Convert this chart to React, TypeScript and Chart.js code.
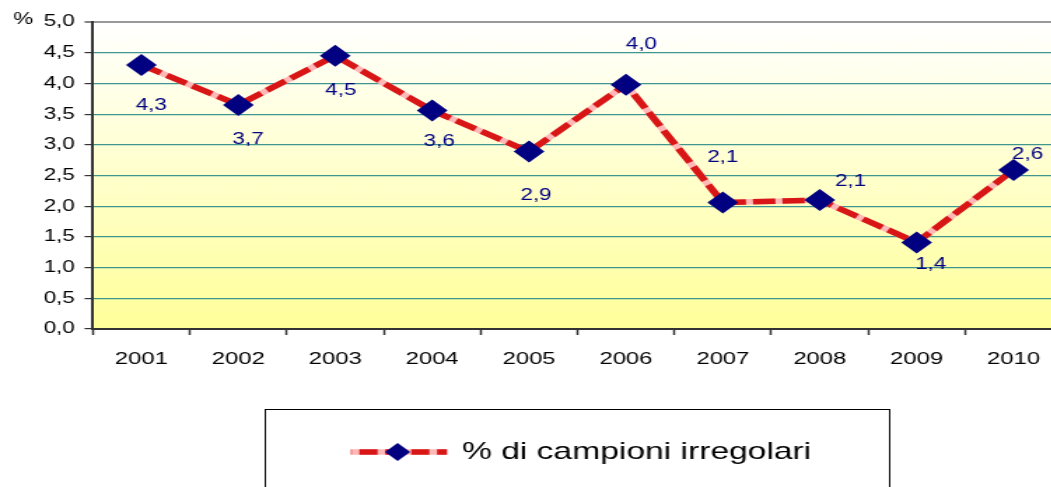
import React, { useEffect, useRef } from "react";
import { Chart, registerables } from "chart.js";

Chart.register(...registerables);

const categories = ["2001", "2002", "2003", "2004", "2005", "2006", "2007", "2008", "2009", "2010"];
const values = [4.3, 3.65, 4.45, 3.56, 2.89, 3.98, 2.06, 2.1, 1.41, 2.59];
const valueLabels = ["4,3", "3,7", "4,5", "3,6", "2,9", "4,0", "2,1", "2,1", "1,4", "2,6"];
const seriesName = "% di campioni irregolari";
const yUnit = "%";
const yMin = 0;
const yMax = 5;
const yStep = 0.5;

// label placement offsets (native px, relative to point)
const labelOffsets: [number, number][] = [
  [7, 41], [7, 35], [4, 35], [5, 31], [5, 44],
  [11, -40], [0, -45], [22, -18], [10, 22], [10, -15],
];

const STRETCH = 1.4;
const NATIVE_W = 780;
const H = 487;
const FONT = "'Liberation Sans', Arial, sans-serif";
const RED = "#D81616";
const PINK = "#FFB8B8";
const NAVY = "#000080";

const bgPlugin = {
  id: "bgGradient",
  beforeDraw(chart: any) {
    const { ctx, chartArea } = chart;
    if (!chartArea) return;
    const g = ctx.createLinearGradient(0, chartArea.top, 0, chartArea.bottom);
    g.addColorStop(0, "#FFFFFF");
    g.addColorStop(1, "#FFFF99");
    ctx.save();
    ctx.fillStyle = g;
    ctx.fillRect(chartArea.left, chartArea.top, chartArea.right - chartArea.left, chartArea.bottom - chartArea.top);
    ctx.restore();
  },
};

const labelPlugin = {
  id: "valueLabels",
  afterDatasetsDraw(chart: any) {
    const { ctx } = chart;
    const meta = chart.getDatasetMeta(1);
    ctx.save();
    ctx.font = `16px ${FONT}`;
    ctx.fillStyle = NAVY;
    ctx.textAlign = "center";
    ctx.textBaseline = "middle";
    meta.data.forEach((pt: any, i: number) => {
      const [dx, dy] = labelOffsets[i];
      ctx.fillText(valueLabels[i], pt.x + dx, pt.y + dy);
    });
    // unit label
    ctx.fillStyle = "#000";
    ctx.font = `16px ${FONT}`;
    ctx.fillText(yUnit, 16.5, 20);
    ctx.restore();
  },
};

const legendPlugin = {
  id: "boxLegend",
  afterDraw(chart: any) {
    const { ctx } = chart;
    ctx.save();
    // box
    ctx.strokeStyle = "#000";
    ctx.lineWidth = 1;
    ctx.strokeRect(189.5, 409.5, 446, 120);
    const y = 452;
    const x0 = 250.7;
    const x1 = 319.3;
    ctx.lineWidth = 5.5;
    ctx.strokeStyle = PINK;
    ctx.beginPath();
    ctx.moveTo(x0, y);
    ctx.lineTo(x1, y);
    ctx.stroke();
    ctx.strokeStyle = RED;
    ctx.setLineDash([13, 5.5]);
    ctx.lineDashOffset = -6;
    ctx.beginPath();
    ctx.moveTo(x0, y);
    ctx.lineTo(x1, y);
    ctx.stroke();
    ctx.setLineDash([]);
    // diamond
    const cx = 284;
    const r = 9;
    ctx.fillStyle = NAVY;
    ctx.beginPath();
    ctx.moveTo(cx, y - r);
    ctx.lineTo(cx + r, y);
    ctx.lineTo(cx, y + r);
    ctx.lineTo(cx - r, y);
    ctx.closePath();
    ctx.fill();
    // text
    ctx.fillStyle = "#000";
    ctx.font = `24px ${FONT}`;
    ctx.textAlign = "left";
    ctx.textBaseline = "middle";
    ctx.fillText(seriesName, 330, y);
    ctx.restore();
  },
};

export default function App() {
  const canvasRef = useRef<HTMLCanvasElement | null>(null);

  useEffect(() => {
    if (!canvasRef.current) return;
    const chart = new Chart(canvasRef.current, {
      type: "line",
      data: {
        labels: categories,
        datasets: [
          {
            label: seriesName + " base",
            data: values,
            borderColor: PINK,
            borderWidth: 5.5,
            pointRadius: 0,
            pointHoverRadius: 0,
            tension: 0,
            order: 2,
          },
          {
            label: seriesName,
            data: values,
            borderColor: RED,
            borderWidth: 5.5,
            borderDash: [16, 5],
            pointStyle: "rectRot",
            pointRadius: 11,
            pointHoverRadius: 11,
            pointBackgroundColor: NAVY,
            pointBorderColor: NAVY,
            pointBorderWidth: 0,
            tension: 0,
            order: 1,
          },
        ],
      },
      options: {
        animation: false,
        responsive: true,
        maintainAspectRatio: false,
        events: [],
        layout: { padding: { left: 0, right: NATIVE_W - 758.6, top: 22, bottom: H - 329 - 50 } },
        plugins: {
          legend: { display: false },
          tooltip: { enabled: false },
          title: { display: false },
        },
        scales: {
          x: {
            offset: true,
            grid: {
              offset: true,
              drawOnChartArea: false,
              drawTicks: true,
              tickLength: 6,
              tickColor: "#333",
              tickWidth: 1.5,
            },
            border: { display: true, color: "#333", width: 2 },
            ticks: {
              color: "#000",
              font: { family: FONT, size: 17 },
              padding: 14,
              maxRotation: 0,
              autoSkip: false,
            },
            afterFit(scale: any) {
              scale.height = 50;
            },
          },
          y: {
            min: yMin,
            max: yMax,
            grid: {
              color: (c: any) => (c.tick && c.tick.value === yMax ? "#999999" : "#3F9690"),
              lineWidth: (c: any) => (c.tick && c.tick.value === yMax ? 2 : 1.2),
              drawTicks: true,
              tickLength: 6,
              tickColor: "#333",
              tickWidth: 1.2,
            },
            border: { display: true, color: "#333", width: 2 },
            ticks: {
              stepSize: yStep,
              color: "#000",
              font: { family: FONT, size: 16 },
              padding: 7,
              callback: (v: any) => Number(v).toFixed(1).replace(".", ","),
            },
            afterFit(scale: any) {
              scale.width = 66.4;
            },
          },
        },
      },
      plugins: [bgPlugin, labelPlugin, legendPlugin],
    });
    return () => chart.destroy();
  }, []);

  return (
    <div
      style={{
        position: "fixed",
        left: 0,
        top: 0,
        width: 1051,
        height: H,
        overflow: "hidden",
        background: "#fff",
      }}
    >
      <div
        style={{
          position: "absolute",
          left: 0,
          top: 0,
          width: NATIVE_W,
          height: H,
          transform: `scaleX(${STRETCH})`,
          transformOrigin: "0 0",
        }}
      >
        <canvas ref={canvasRef} />
      </div>
    </div>
  );
}
